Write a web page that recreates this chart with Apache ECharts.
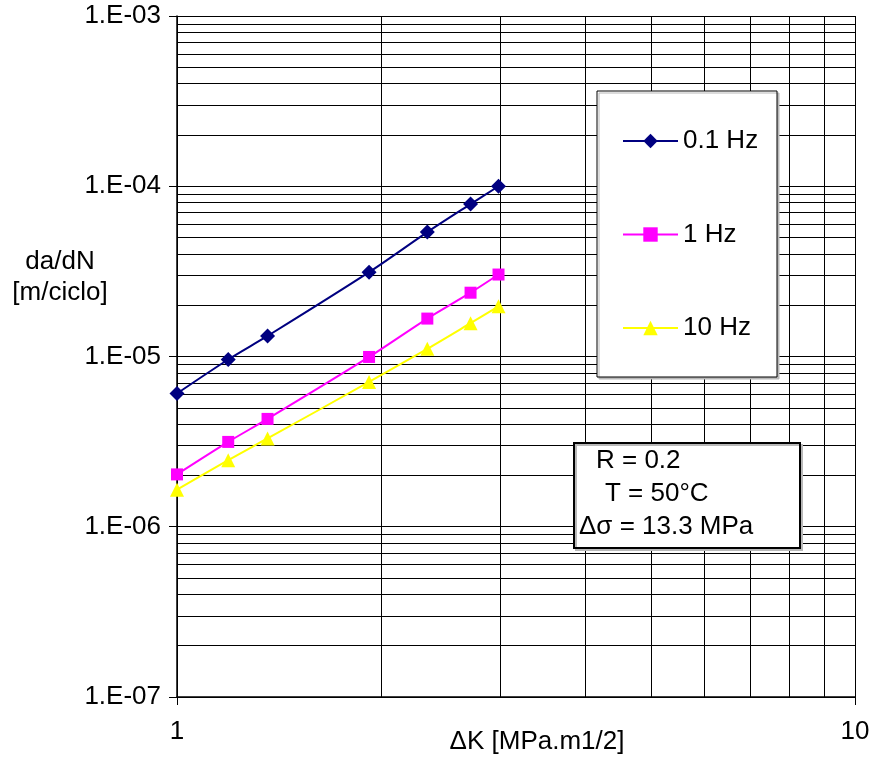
<!DOCTYPE html>
<html>
<head>
<meta charset="utf-8">
<title>da/dN vs ΔK</title>
<script src="https://cdn.jsdelivr.net/npm/echarts@6/dist/echarts.min.js"></script>
<style>
  html, body { margin: 0; padding: 0; background: #ffffff; }
  #chart { width: 875px; height: 757px; }
</style>
</head>
<body>
<div id="chart"></div>
<script>
// Stress intensity factor range (MPa·m^1/2)
const deltaK = [1.0, 1.19, 1.36, 1.92, 2.34, 2.71, 2.98];

// Crack growth rate da/dN (m/ciclo) per loading frequency
const rate01Hz = [6.06e-6, 9.6e-6, 1.32e-5, 3.13e-5, 5.38e-5, 7.86e-5, 1.0e-4];
const rate1Hz  = [2.03e-6, 3.15e-6, 4.30e-6, 9.94e-6, 1.67e-5, 2.37e-5, 3.03e-5];
const rate10Hz = [1.65e-6, 2.46e-6, 3.30e-6, 7.09e-6, 1.11e-5, 1.57e-5, 1.97e-5];

const seriesNames = ['0.1 Hz', '1 Hz', '10 Hz'];

// Axis ticks and their labels
const xTicks = [1, 10];
const xTickLabels = ['1', '10'];
const yTicks = [1e-7, 1e-6, 1e-5, 1e-4, 1e-3];
const yTickLabels = ['1.E-07', '1.E-06', '1.E-05', '1.E-04', '1.E-03'];

// Test conditions
const noteLines = ['R = 0.2', 'T = 50°C', 'Δσ = 13.3 MPa'];

const FONT = "'Liberation Sans', Arial, sans-serif";
const FS = 26;

// Intermediate log-grid lines (2..9 within each decade)
const minorSteps = [2, 3, 4, 5, 6, 7, 8, 9];
const gridLines = [];
minorSteps.forEach(m => gridLines.push([{ coord: [m, 1e-7] }, { coord: [m, 1e-3] }]));
for (let e = -7; e <= -4; e++) {
  minorSteps.forEach(m => {
    const v = m * Math.pow(10, e);
    gridLines.push([{ coord: [1, v] }, { coord: [10, v] }]);
  });
}

function pickLabel(value, ticks, labels) {
  const lv = Math.log10(value);
  for (let i = 0; i < ticks.length; i++) {
    if (Math.abs(Math.log10(ticks[i]) - lv) < 1e-6) return labels[i];
  }
  return '';
}

function pairs(ys) { return deltaK.map((x, i) => [x, ys[i]]); }

const chart = echarts.init(document.getElementById('chart'), null, { renderer: 'canvas' });

const lineSeries = (name, ys, color, symbol, size) => ({
  name: name,
  type: 'line',
  data: pairs(ys),
  smooth: 0.3,
  symbol: symbol,
  symbolSize: size,
  showAllSymbol: true,
  z: 2,
  itemStyle: { color: color },
  lineStyle: { color: color, width: 2 }
});

chart.setOption({
  animation: false,
  backgroundColor: '#ffffff',
  textStyle: { fontFamily: FONT },
  grid: { left: 177, right: 20, top: 16, bottom: 60 },
  xAxis: {
    type: 'log',
    logBase: 10,
    min: 1,
    max: 10,
    splitNumber: 1,
    axisLine: { show: true, lineStyle: { color: '#000', width: 1.5 } },
    axisTick: { show: true, length: 8, lineStyle: { color: '#000', width: 1 } },
    axisLabel: {
      color: '#000', fontSize: FS, fontFamily: FONT, margin: 22,
      formatter: v => pickLabel(v, xTicks, xTickLabels)
    },
    splitLine: { show: true, lineStyle: { color: '#000', width: 1 } }
  },
  yAxis: {
    type: 'log',
    logBase: 10,
    min: 1e-7,
    max: 1e-3,
    splitNumber: 4,
    axisLine: { show: true, lineStyle: { color: '#000', width: 1.5 } },
    axisTick: { show: true, length: 8, lineStyle: { color: '#000', width: 1 } },
    axisLabel: {
      color: '#000', fontSize: FS, fontFamily: FONT, margin: 16,
      formatter: v => pickLabel(v, yTicks, yTickLabels)
    },
    splitLine: { show: true, lineStyle: { color: '#000', width: 1 } }
  },
  legend: {
    data: seriesNames,
    orient: 'vertical',
    left: 622,
    top: 128,
    padding: 0,
    itemWidth: 55,
    itemHeight: 18,
    itemGap: 67.5,
    textStyle: { color: '#000', fontSize: FS, fontFamily: FONT },
    z: 5
  },
  series: [
    {
      name: 'grid',
      type: 'line',
      data: [],
      z: 1,
      silent: true,
      markLine: {
        z: 1,
        silent: true,
        symbol: ['none', 'none'],
        label: { show: false },
        animation: false,
        lineStyle: { color: '#000', width: 1, type: 'solid' },
        data: gridLines
      }
    },
    lineSeries(seriesNames[0], rate01Hz, '#000080', 'diamond', 15),
    lineSeries(seriesNames[1], rate1Hz, '#ff00ff', 'rect', 12),
    lineSeries(seriesNames[2], rate10Hz, '#ffff00', 'triangle', 14)
  ],
  graphic: [
    // legend frame
    {
      type: 'rect', z: 3,
      shape: { x: 597, y: 91, width: 180, height: 286 },
      style: { fill: '#fff', stroke: '#000', lineWidth: 1,
               shadowColor: '#b8b8b8', shadowOffsetX: 2, shadowOffsetY: 2 }
    },
    // test-condition frame
    {
      type: 'rect', z: 3,
      shape: { x: 574, y: 443, width: 226, height: 105 },
      style: { fill: '#fff', stroke: '#000', lineWidth: 2,
               shadowColor: '#b8b8b8', shadowOffsetX: 2, shadowOffsetY: 2 }
    },
    { type: 'text', z: 4, x: 596, y: 461,
      style: { text: noteLines[0], font: FS + 'px ' + FONT, fill: '#000', textVerticalAlign: 'middle' } },
    { type: 'text', z: 4, x: 605, y: 494,
      style: { text: noteLines[1], font: FS + 'px ' + FONT, fill: '#000', textVerticalAlign: 'middle' } },
    { type: 'text', z: 4, x: 579, y: 527,
      style: { text: noteLines[2], font: FS + 'px ' + FONT, fill: '#000', textVerticalAlign: 'middle' } },
    // axis titles
    { type: 'text', z: 4, x: 60, y: 262,
      style: { text: 'da/dN', font: FS + 'px ' + FONT, fill: '#000',
               textAlign: 'center', textVerticalAlign: 'middle' } },
    { type: 'text', z: 4, x: 60, y: 293,
      style: { text: '[m/ciclo]', font: FS + 'px ' + FONT, fill: '#000',
               textAlign: 'center', textVerticalAlign: 'middle' } },
    { type: 'text', z: 4, x: 537, y: 742,
      style: { text: 'ΔK [MPa.m1/2]', font: FS + 'px ' + FONT, fill: '#000',
               textAlign: 'center', textVerticalAlign: 'middle' } }
  ]
});
</script>
</body>
</html>
